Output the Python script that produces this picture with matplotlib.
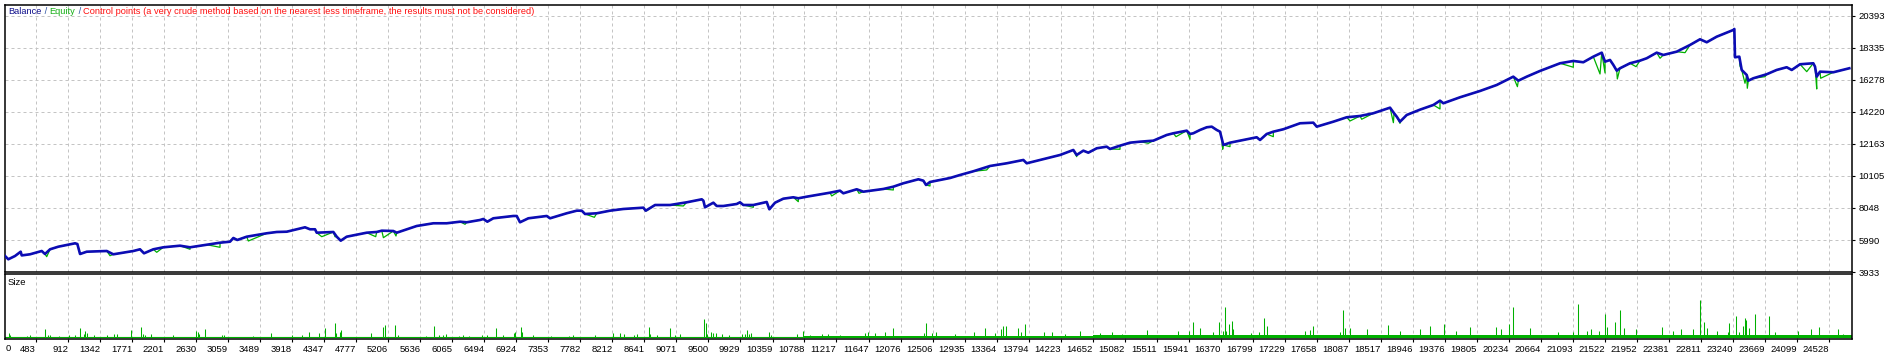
import matplotlib
matplotlib.use("Agg")
import matplotlib.pyplot as plt
from matplotlib.transforms import offset_copy

# balance curve: trade number -> balance
trades = [60, 111, 201, 277, 291, 402, 559, 603, 671, 782, 1006, 1037, 1073, 1163, 1431, 1519,
          1788, 1877, 1931, 2056, 2190, 2414, 2548, 2772, 2950, 3084, 3129, 3182, 3308, 3576,
          3711, 3845, 3979, 4090, 4157, 4224, 4247, 4470, 4515, 4569, 4649, 4917, 5051, 5119,
          5274, 5320, 5588, 5811, 5990, 6169, 6258, 6437, 6481, 6535, 6615, 6883, 6929, 6973,
          7085, 7331, 7376, 7599, 7734, 7801, 7845, 8002, 8180, 8359, 8627, 8659, 8784, 8985,
          9209, 9410, 9432, 9454, 9566, 9611, 9700, 9879, 9923, 9968, 10102, 10281, 10317,
          10393, 10504, 10638, 10705, 10818, 11130, 11264, 11309, 11488, 11577, 11845, 11979,
          12113, 12315, 12382, 12418, 12471, 12740, 12874, 13052, 13276, 13500, 13723, 13768,
          13946, 14036, 14215, 14393, 14438, 14527, 14594, 14707, 14841, 14885, 15019, 15153,
          15287, 15466, 15645, 15734, 15913, 15958, 16002, 16092, 16182, 16249, 16316, 16360,
          16383, 16405, 16494, 16628, 16852, 16897, 16986, 17075, 17209, 17433, 17611, 17657,
          17880, 18059, 18238, 18416, 18640, 18694, 18730, 18774, 18864, 19042, 19221, 19310,
          19355, 19579, 19847, 20071, 20293, 20361, 20473, 20651, 20920, 21098, 21232, 21366,
          21479, 21523, 21590, 21635, 21680, 21724, 21858, 21992, 22082, 22216, 22305, 22484,
          22663, 22797, 22887, 23021, 23244, 23257, 23266, 23324, 23356, 23423, 23445, 23512,
          23691, 23825, 23959, 24027, 24138, 24316, 24339, 24362, 24406, 24585, 24799]
balance = [5000, 4750, 4962, 5238, 5000, 5071, 5283, 5090, 5393, 5560, 5778, 5733, 5090, 5238,
           5283, 5071, 5283, 5393, 5135, 5393, 5521, 5624, 5521, 5688, 5817, 5881, 6119, 5991,
           6203, 6422, 6505, 6524, 6679, 6807, 6679, 6679, 6460, 6505, 6203, 5946, 6203, 6460,
           6505, 6589, 6569, 6460, 6891, 7065, 7065, 7167, 7129, 7277, 7341, 7167, 7386, 7534,
           7534, 7129, 7386, 7534, 7386, 7708, 7875, 7875, 7662, 7708, 7875, 7984, 8068, 7875,
           8240, 8240, 8414, 8606, 8518, 8093, 8389, 8177, 8177, 8305, 8414, 8240, 8240, 8434,
           7965, 8389, 8646, 8736, 8672, 8775, 9032, 9161, 8993, 9251, 9096, 9270, 9418, 9636,
           9894, 9804, 9527, 9720, 9977, 10170, 10408, 10749, 10922, 11135, 10922, 11135, 11244,
           11456, 11777, 11456, 11733, 11604, 11887, 11990, 11842, 12054, 12247, 12311, 12376,
           12742, 12851, 13019, 12806, 12851, 13064, 13237, 13276, 13064, 12954, 12530, 12099,
           12247, 12376, 12594, 12420, 12806, 12954, 13109, 13494, 13533, 13276, 13597, 13880,
           13964, 14138, 14498, 14138, 13919, 13597, 14028, 14370, 14671, 14948, 14781, 15166,
           15571, 15957, 16491, 16234, 16491, 16858, 17352, 17500, 17417, 17777, 18034, 17455,
           17564, 17243, 16876, 17031, 17352, 17520, 17674, 18034, 17886, 18098, 18529, 18895,
           18702, 19062, 19494, 19558, 17738, 17777, 16922, 16600, 16234, 16388, 16646, 16922,
           17096, 16922, 17288, 17352, 17134, 16491, 16813, 16774, 17031]

# equity lows (floating drawdowns) below the balance line
dip_trades = [626, 1475, 2101, 2548, 2950, 3330, 4314, 4492, 5038, 5141, 5310, 6236, 7970, 8672,
              9163, 10102, 10705, 11153, 11519, 11979, 12471, 13231, 14438, 15019, 15399, 15770,
              15958, 16396, 16494, 17075, 18104, 18260, 18685, 18774, 19310, 20348, 21098, 21456,
              21523, 21688, 21939, 22261, 22596, 23333, 23400, 23431, 23669, 24228, 24362, 24415]
dip_equity = [4917, 4981, 5200, 5393, 5521, 5926, 6203, 6203, 6203, 6139, 6248, 7000, 7450, 7875,
              8177, 8093, 8453, 8820, 8993, 9206, 9463, 10492, 11347, 11823, 12208, 12632, 12465,
              11823, 11990, 12632, 13642, 13752, 13533, 13494, 14414, 15848, 17096, 16664, 16728,
              16343, 17134, 17674, 18034, 17178, 16067, 15745, 16491, 16813, 15700, 16388]

# lot size per trade (larger trades only)
size_trades = [120, 137, 356, 400, 607, 640, 673, 794, 919, 1012, 1067, 1122, 1133, 1166, 1259,
               1434, 1532, 1565, 1751, 1894, 1916, 1948, 2025, 2326, 2633, 2654, 2671, 2753, 2983,
               3010, 3393, 3640, 3913, 4050, 4138, 4280, 4362, 4488, 4504, 4554, 4575, 4980, 5134,
               5167, 5298, 5342, 5708, 5823, 5883, 5938, 5987, 6157, 6212, 6294, 6458, 6524, 6655,
               6743, 6896, 6912, 6989, 7005, 7153, 7389, 7635, 7690, 7980, 8220, 8319, 8374, 8538,
               8506, 8697, 8714, 8807, 8987, 9053, 9124, 9447, 9463, 9480, 9529, 9556, 9600, 9682,
               9781, 9956, 9994, 10011, 10043, 10065, 10317, 10339, 10684, 10766, 10859, 11023,
               11105, 11269, 11598, 11642, 11735, 11871, 11970, 12391, 12419, 12501, 12556, 12802,
               13065, 13212, 13338, 13420, 13448, 13486, 13650, 13688, 13749, 13995, 14104, 14280,
               14488, 14745, 14909, 15046, 15385, 15801, 15949, 16004, 16086, 16261, 16348, 16398,
               16430, 16447, 16480, 16523, 16540, 16770, 16879, 16956, 16984, 17504, 17569, 17613,
               17969, 18013, 18040, 18106, 18325, 18609, 18773, 19036, 19173, 19365, 19529, 19709,
               20065, 20131, 20240, 20289, 20514, 20897, 21088, 21154, 21280, 21335, 21444, 21526,
               21554, 21663, 21718, 21773, 21937, 22293, 22440, 22539, 22703, 22802, 22845, 22895,
               23031, 23168, 23190, 23283, 23316, 23371, 23398, 23415, 23458, 23535, 23727, 23798,
               24115, 24279, 24399, 24646, 24717]
size_lots = [.12, .07, .04, .07, .22, .07, .07, .04, .07, .07, .25, .10, .18, .11, .07, .06, .10,
             .09, .19, .28, .08, .07, .10, .07, .18, .15, .10, .22, .07, .07, .04, .13, .07, .07,
             .16, .11, .25, .40, .12, .16, .20, .12, .28, .34, .34, .07, .04, .31, .07, .07, .10,
             .04, .07, .04, .07, .07, .25, .07, .12, .15, .28, .14, .07, .04, .04, .06, .05, .12,
             .12, .09, .08, .05, .28, .10, .06, .25, .05, .09, .52, .40, .08, .14, .11, .12, .09,
             .05, .09, .10, .19, .09, .12, .14, .07, .10, .17, .07, .09, .10, .06, .12, .14, .12,
             .14, .27, .11, .41, .12, .14, .10, .16, .25, .12, .22, .31, .31, .26, .14, .37, .16,
             .16, .09, .18, .11, .14, .10, .21, .18, .18, .43, .25, .14, .43, .18, .88, .18, .38,
             .46, .22, .12, .14, .55, .31, .18, .21, .31, .14, .79, .25, .25, .22, .34, .18, .22,
             .31, .38, .18, .28, .28, .22, .37, .88, .25, .14, .16, .97, .18, .22, .18, .67, .29,
             .44, .79, .27, .22, .29, .18, .22, .22, 1.09, .43, .27, .18, .14, .41, .61, .16, .32,
             .57, .49, .27, .67, .61, .14, .18, .22, .29, .22, .10]

x_ticks = [0, 483, 912, 1342, 1771, 2201, 2630, 3059, 3489, 3918, 4347, 4777, 5206, 5636, 6065,
           6494, 6924, 7353, 7782, 8212, 8641, 9071, 9500, 9929, 10359, 10788, 11217, 11647,
           12076, 12506, 12935, 13364, 13794, 14223, 14652, 15082, 15511, 15941, 16370, 16799,
           17229, 17658, 18087, 18517, 18946, 19376, 19805, 20234, 20664, 21093, 21522, 21952,
           22381, 22811, 23240, 23669, 24099, 24528]
y_ticks = [3933, 5990, 8048, 10105, 12163, 14220, 16278, 18335, 20393]

# typical small lot size within each x-grid segment (dense tiny bars)
base_lots = [.012] * 25 + [.03] * 4 + [.04] * 5 + [.045] * 5 + [.05] * 7 + [.06] * 12

BLUE = "#0c0cb4"
GREEN = "#00b000"
GRID = "#c4c4c4"
FONT = "Liberation Sans"

fig = plt.figure(figsize=(18.96, 3.56), dpi=100)
W, H = 1896, 356
ax = fig.add_axes([4.5 / W, 1 - 272 / H, (1852 - 4.5) / W, (272 - 4.5) / H])
ax2 = fig.add_axes([4.5 / W, 1 - 339 / H, (1852 - 4.5) / W, 65 / H])

x_min, x_max = 60, 24835

# equity line: balance points plus drawdown lows
eq = sorted(list(zip(trades, balance)) + list(zip(dip_trades, dip_equity)))
ax.plot([p[0] for p in eq], [p[1] for p in eq], color=GREEN, lw=0.9, zorder=2)
ax.plot(trades, balance, color=BLUE, lw=1.9, zorder=3)

ax.set_xlim(x_min, x_max)
ax.set_ylim(3933, 21130)
ax.set_xticks(x_ticks[1:])
ax.set_xticklabels([])
ax.tick_params(axis="x", length=0)
ax.yaxis.tick_right()
ax.set_yticks(y_ticks)
ax.set_yticklabels([str(v) for v in y_ticks], fontsize=6.8, family=FONT)
ax.tick_params(axis="y", length=2.5, width=0.8, pad=2)
ax.grid(True, color=GRID, lw=0.72, ls=(0, (3, 3)))

# size panel
edges = x_ticks + [x_max]
ax2.fill_between(edges, 0, base_lots + [base_lots[-1]], step="post", color=GREEN, lw=0, zorder=2)
ax2.vlines(size_trades, 0, size_lots, color=GREEN, lw=0.75, zorder=3)
ax2.axhline(0.006, color=GREEN, lw=0.8, zorder=2)
ax2.set_xlim(x_min, x_max)
ax2.set_ylim(-0.06, 1.85)
ax2.set_yticks([])
ax2.set_xticks(x_ticks[1:])
ax2.set_xticklabels([str(v) for v in x_ticks[1:]], fontsize=6.8, family=FONT, ha="right")
ax2.tick_params(axis="x", length=2.5, width=0.8, pad=1.5)
ax2.grid(True, axis="x", color=GRID, lw=0.72, ls=(0, (3, 3)))
ax2.text(0.0, -0.05, "0", transform=offset_copy(ax2.transAxes, fig=fig, x=1, y=-2, units="dots"),
         ha="left", va="top", fontsize=6.8, family=FONT)

for a in (ax, ax2):
    a.set_facecolor("white")
    for s in a.spines.values():
        s.set_linewidth(1.1)
        s.set_color("black")

ax2.text(0, 1, "Size", transform=offset_copy(ax2.transAxes, fig=fig, x=3, y=-4, units="dots"),
         ha="left", va="top", fontsize=6.8, family=FONT)

# multi-coloured header
parts = [("Balance", "#10108c"), (" / ", "#2a50a0"), ("Equity", "#18b018"), (" / ", "#2a50a0"),
         ("Control points (a very crude method based on the nearest less timeframe, "
          "the results must not be considered)", "#ff1010")]
fig.canvas.draw()
r = fig.canvas.get_renderer()
size = 7.0
probe = ax.text(0, 0, "".join(p[0] for p in parts), fontsize=size, family=FONT)
wid = probe.get_window_extent(r).width
probe.remove()
size = size * 526 / wid
xoff = 4
for s, c in parts:
    t = ax.text(0, 1, s, color=c, fontsize=size, family=FONT, ha="left", va="top",
                transform=offset_copy(ax.transAxes, fig=fig, x=xoff, y=-3, units="dots"))
    xoff += t.get_window_extent(r).width

fig.savefig("out.png", dpi=100, facecolor="white")
